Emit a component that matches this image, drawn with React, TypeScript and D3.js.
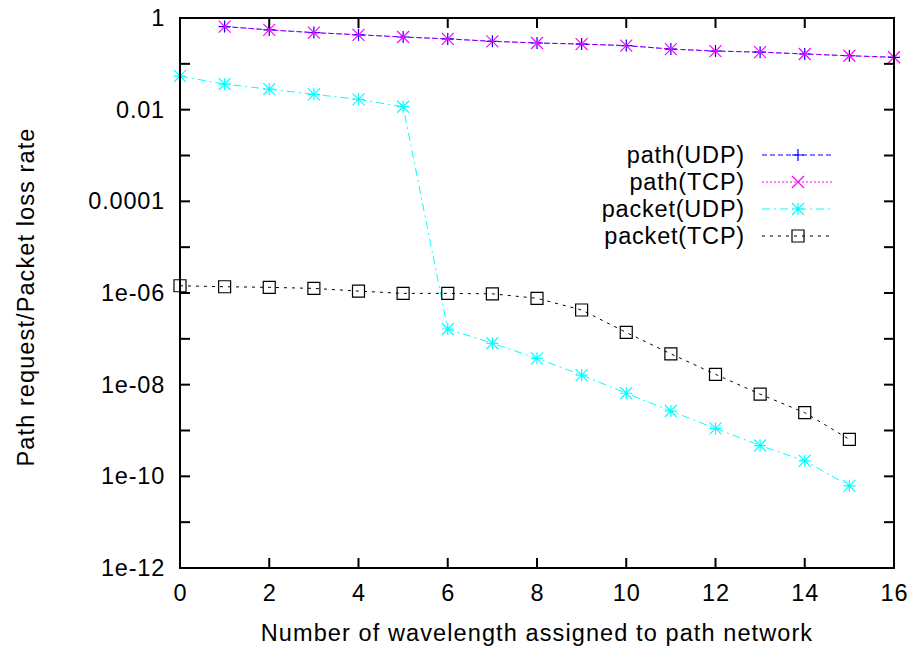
import React, { useEffect, useRef } from "react";
import * as d3 from "d3";

const pathX = [1, 2, 3, 4, 5, 6, 7, 8, 9, 10, 11, 12, 13, 14, 15, 16];
const pathUdp = [0.65, 0.55, 0.48, 0.43, 0.385, 0.35, 0.31, 0.285, 0.27, 0.25, 0.21, 0.19, 0.18, 0.164, 0.15, 0.139];
const pathTcp = [0.65, 0.55, 0.48, 0.43, 0.385, 0.35, 0.31, 0.285, 0.27, 0.25, 0.21, 0.19, 0.18, 0.164, 0.15, 0.139];

const packetX = [0, 1, 2, 3, 4, 5, 6, 7, 8, 9, 10, 11, 12, 13, 14, 15];
const packetUdp = [0.054, 0.036, 0.028, 0.0216, 0.0168, 0.0116, 1.64e-7, 8e-8, 3.75e-8, 1.62e-8, 6.5e-9, 2.66e-9, 1.11e-9, 4.7e-10, 2.18e-10, 6.2e-11];
const packetTcp = [1.44e-6, 1.37e-6, 1.33e-6, 1.26e-6, 1.1e-6, 9.8e-7, 9.8e-7, 9.6e-7, 7.65e-7, 4.26e-7, 1.38e-7, 4.7e-8, 1.68e-8, 6.2e-9, 2.45e-9, 6.4e-10];

const xTicks = [0, 2, 4, 6, 8, 10, 12, 14, 16];
const yTicks = [1, 1e-2, 1e-4, 1e-6, 1e-8, 1e-10, 1e-12];
const yTickLabels = ["1", "0.01", "0.0001", "1e-06", "1e-08", "1e-10", "1e-12"];
const yMinorTicks = [1e-1, 1e-3, 1e-5, 1e-7, 1e-9, 1e-11];

const seriesNames = ["path(UDP)", "path(TCP)", "packet(UDP)", "packet(TCP)"];

const FONT = "'Liberation Sans', Arial, Helvetica, sans-serif";

const App: React.FC = () => {
  const ref = useRef<SVGSVGElement>(null);

  useEffect(() => {
    const svg = d3.select(ref.current);
    svg.selectAll("*").remove();

    const left = 180, right = 894, top = 18, bottom = 568;
    const x = d3.scaleLinear().domain([0, 16]).range([left, right]);
    const y = d3.scaleLog().domain([1e-12, 1]).range([bottom, top]);

    const series = [
      { name: seriesNames[0], xs: pathX, ys: pathUdp, color: "#0000ff", dash: "5,3", marker: "plus" },
      { name: seriesNames[1], xs: pathX, ys: pathTcp, color: "#ff00ff", dash: "2,2", marker: "cross" },
      { name: seriesNames[2], xs: packetX, ys: packetUdp, color: "#00ffff", dash: "8,4,2,4", marker: "star" },
      { name: seriesNames[3], xs: packetX, ys: packetTcp, color: "#000000", dash: "3,5", marker: "box" },
    ];

    const drawMarker = (g: any, kind: string, cx: number, cy: number, color: string) => {
      const s = 6;
      const p = d3.path();
      if (kind === "plus" || kind === "star") {
        p.moveTo(cx - s, cy); p.lineTo(cx + s, cy);
        p.moveTo(cx, cy - s); p.lineTo(cx, cy + s);
      }
      if (kind === "cross" || kind === "star") {
        p.moveTo(cx - s, cy - s); p.lineTo(cx + s, cy + s);
        p.moveTo(cx - s, cy + s); p.lineTo(cx + s, cy - s);
      }
      if (kind === "box") {
        p.rect(cx - s, cy - s, 2 * s, 2 * s);
      }
      g.append("path")
        .attr("d", p.toString())
        .attr("fill", "none")
        .attr("stroke", color)
        .attr("stroke-width", 1.2);
    };

    const line = d3.line<[number, number]>()
      .x((d) => x(d[0]))
      .y((d) => y(d[1]));

    series.forEach((s) => {
      const pts = s.xs.map((v, i) => [v, s.ys[i]] as [number, number]);
      svg.append("path")
        .datum(pts)
        .attr("fill", "none")
        .attr("stroke", s.color)
        .attr("stroke-width", 1)
        .attr("stroke-dasharray", s.dash)
        .attr("d", line);
      const g = svg.append("g");
      pts.forEach((d) => drawMarker(g, s.marker, x(d[0]), y(d[1]), s.color));
    });

    // frame and ticks
    const axis = svg.append("g").attr("stroke", "#000").attr("stroke-width", 2);
    axis.append("rect")
      .attr("x", left).attr("y", top)
      .attr("width", right - left).attr("height", bottom - top)
      .attr("fill", "none");

    const tl = 10;
    xTicks.forEach((t) => {
      axis.append("line").attr("x1", x(t)).attr("x2", x(t)).attr("y1", bottom).attr("y2", bottom - tl);
      axis.append("line").attr("x1", x(t)).attr("x2", x(t)).attr("y1", top).attr("y2", top + tl);
    });
    [...yTicks, ...yMinorTicks].forEach((t) => {
      axis.append("line").attr("x1", left).attr("x2", left + tl).attr("y1", y(t)).attr("y2", y(t));
      axis.append("line").attr("x1", right).attr("x2", right - tl).attr("y1", y(t)).attr("y2", y(t));
    });

    // gnuplot's font runs a bit wider than Liberation Sans, so add some spacing
    const text = svg.append("g")
      .attr("font-family", FONT)
      .attr("font-size", 23.5)
      .attr("letter-spacing", 0.8)
      .attr("fill", "#000");

    xTicks.forEach((t) => {
      text.append("text")
        .attr("x", x(t) + 0.4).attr("y", 601)
        .attr("text-anchor", "middle")
        .text(String(t));
    });
    yTicks.forEach((t, i) => {
      text.append("text")
        .attr("x", 165).attr("y", y(t) + 8)
        .attr("text-anchor", "end")
        .text(yTickLabels[i]);
    });

    text.append("text")
      .attr("x", 537).attr("y", 641)
      .attr("text-anchor", "middle")
      .attr("letter-spacing", 1.1)
      .text("Number of wavelength assigned to path network");

    text.append("text")
      .attr("transform", "translate(34,297) rotate(-90)")
      .attr("text-anchor", "middle")
      .attr("letter-spacing", 1.1)
      .text("Path request/Packet loss rate");

    // legend
    const legendY = [155, 182, 209, 236];
    series.forEach((s, i) => {
      const ly = legendY[i];
      text.append("text")
        .attr("x", 745).attr("y", ly + 8)
        .attr("text-anchor", "end")
        .text(s.name);
      svg.append("line")
        .attr("x1", 762).attr("x2", 832)
        .attr("y1", ly).attr("y2", ly)
        .attr("stroke", s.color)
        .attr("stroke-width", 1)
        .attr("stroke-dasharray", s.dash);
      drawMarker(svg.append("g"), s.marker, 798, ly, s.color);
    });
  }, []);

  return (
    <svg
      ref={ref}
      width={918}
      height={652}
      style={{ position: "absolute", left: 0, top: 0, background: "#fff" }}
    />
  );
};

export default App;
